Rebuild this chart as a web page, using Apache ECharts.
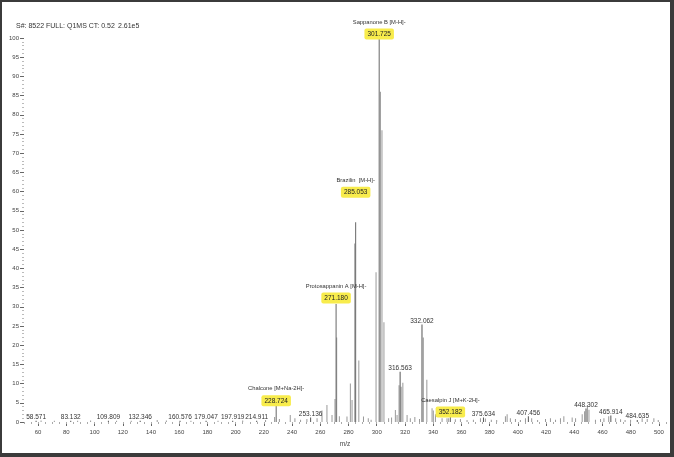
<!DOCTYPE html>
<html>
<head>
<meta charset="utf-8">
<script src="https://cdn.jsdelivr.net/npm/echarts@6/dist/echarts.min.js"></script>
<style>
    html, body { margin: 0; padding: 0; background: #fff; }
    #chart { width: 674px; height: 457px; }
    .frame {
        position: absolute; left: 0; top: 0; width: 674px; height: 457px;
        box-sizing: border-box; border-style: solid; border-color: #3b3b3b;
        border-width: 2px 4px 4px 2px; pointer-events: none;
    }
</style>
</head>
<body>
<div id="chart"></div>
<div class="frame"></div>
<script>
    // peaks with a compound annotation (yellow box)
    var compoundMz = [301.725, 285.053, 271.180, 228.724, 352.182];
    var compoundInt = [100, 52, 30.7, 4.2, 1.3];
    var compoundNames = ['Sappanone B [M-H]-', 'Brazilin  [M-H]-', 'Protosappanin A [M-H]-', 'Chalcone [M+Na-2H]-', 'Caesalpin J [M+K-2H]-'];

    // peaks labelled with m/z only
    var tagMz = [58.571, 83.132, 109.809, 132.346, 160.576, 179.047, 197.919, 214.911, 253.136, 316.563, 332.062, 375.634, 407.456, 448.302, 465.914, 484.635];
    var tagInt = [0.3, 0.3, 0.3, 0.3, 0.3, 0.3, 0.3, 0.3, 1.2, 13.1, 25.4, 1.2, 1.5, 3.5, 1.7, 0.5];

    // unlabelled peaks
    var peakMz = [62.1, 71.5, 88.0, 97.2, 115.6, 126.0, 144.4, 150.9, 168.3, 187.5, 205.0, 221.2,
        227.6, 231.0, 238.7, 242.0, 246.0, 250.5, 257.7, 261.2, 264.7, 268.3, 270.4, 271.6, 273.5, 278.9,
        281.3, 282.5, 284.4, 287.3, 290.6, 294.0, 296.0, 299.5, 302.6, 303.7, 305.1, 308.4, 310.5,
        313.2, 314.4, 315.8, 317.3, 318.5, 321.5, 323.8, 327.0, 330.3, 333.0, 335.5, 339.2, 340.1,
        341.6, 346.3, 349.8, 351.0, 355.7, 359.3, 364.0, 368.5, 373.5, 377.0, 381.2, 385.0, 391.2,
        392.4, 394.7, 398.3, 401.8, 405.4, 409.8, 414.0, 419.6, 423.1, 426.7, 430.2, 432.6, 438.5,
        440.9, 445.6, 447.3, 449.3, 450.4, 455.0, 458.6, 461.0, 464.4, 469.3, 472.8, 476.0, 479.9,
        488.1, 491.7, 496.4, 499.5];
    var peakInt = [0.4, 0.3, 0.3, 0.4, 0.3, 0.3, 0.5, 0.4, 0.3, 0.3, 0.4, 0.5,
        1.3, 0.8, 1.8, 1.0, 0.6, 0.8, 1.0, 3.0, 4.4, 1.8, 6.0, 22, 1.5, 1.4,
        10, 5.7, 46.5, 16, 1.4, 1.0, 0.6, 39, 86, 76, 26, 1.0, 1.2,
        3.1, 1.8, 9.6, 9.2, 10.2, 1.8, 1.0, 1.3, 0.8, 22, 11, 3.6, 3.0,
        2.0, 1.0, 1.0, 1.0, 0.7, 0.8, 0.5, 0.6, 1.0, 0.9, 0.6, 0.5, 1.5,
        2.0, 1.0, 0.8, 0.5, 1.0, 1.0, 0.5, 0.8, 1.0, 0.6, 1.0, 1.5, 1.2,
        1.0, 2.0, 2.8, 4.4, 3.2, 0.6, 0.8, 1.0, 1.5, 1.0, 0.7, 0.5, 0.6,
        1.0, 0.8, 1.0, 0.5];

    var xTicks = [60, 80, 100, 120, 140, 160, 180, 200, 220, 240, 260, 280, 300, 320, 340, 360, 380, 400, 420, 440, 460, 480, 500];

    var font = 'Liberation Sans, Arial, sans-serif';
    // extra gap between bar top and compound label
    var compoundGap = [0, 26, 2, 1, 1];

    var data = [];
    peakMz.forEach(function (mz, i) {
        data.push({ value: [mz, peakInt[i]] });
    });
    tagMz.forEach(function (mz, i) {
        data.push({
            value: [mz, tagInt[i]],
            itemStyle: { color: '#555' },
            label: {
                show: true, position: 'top', distance: 0,
                formatter: mz.toFixed(3), fontSize: 6.5, color: '#333', fontFamily: font
            }
        });
    });
    compoundMz.forEach(function (mz, i) {
        data.push({
            value: [mz, compoundInt[i]],
            itemStyle: { color: '#666' },
            label: {
                show: true, position: 'top', distance: compoundGap[i],
                formatter: '{n|' + compoundNames[i] + '}\n{b|' + mz.toFixed(3) + '}',
                rich: {
                    n: { fontSize: 5.8, lineHeight: 16, color: '#333', fontFamily: font },
                    b: {
                        fontSize: 6.5, lineHeight: 8, color: '#222', fontFamily: font,
                        backgroundColor: '#f8ec4c', borderRadius: 2, padding: [2, 3, 2, 3]
                    }
                }
            }
        });
    });

    var chart = echarts.init(document.getElementById('chart'));
    chart.setOption({
        animation: false,
        textStyle: { fontFamily: font },
        grid: { left: 24, right: 8, top: 38, bottom: 35, outerBoundsMode: 'none', containLabel: false },
        graphic: [
            { type: 'text', left: 16, top: 23, style: { text: 'S#: 8522 FULL: Q1MS CT: 0.52', fill: '#333', font: '7px ' + font } },
            { type: 'text', left: 118, top: 23, style: { text: '2.61e5', fill: '#333', font: '7px ' + font } }
        ],
        xAxis: [
            {
                type: 'value', min: 50, max: 505, interval: 5,
                axisLine: { show: false },
                splitLine: { show: false },
                axisTick: { show: true, customValues: xTicks, length: 4, lineStyle: { color: '#666' } },
                axisLabel: { customValues: xTicks, fontSize: 6, color: '#444', margin: 7 },
                name: 'm/z', nameLocation: 'middle', nameGap: 19,
                nameTextStyle: { fontSize: 6.5, color: '#444' }
            },
            {
                type: 'value', min: 50, max: 505, interval: 5, position: 'bottom',
                axisLine: { show: false },
                splitLine: { show: false },
                axisTick: { show: true, length: 2, lineStyle: { color: '#aaa' } },
                axisLabel: { show: false }
            }
        ],
        yAxis: {
            type: 'value', min: 0, max: 100, interval: 5,
            axisLine: { show: false },
            splitLine: { show: false },
            axisTick: { show: true, length: 4, lineStyle: { color: '#666' } },
            minorTick: { show: true, splitNumber: 5, length: 2, lineStyle: { color: '#bbb' } },
            axisLabel: { fontSize: 6, color: '#444', margin: 5 },
            name: 'Relative Abundance', nameLocation: 'middle', nameGap: 18,
            nameTextStyle: { fontSize: 4, color: '#bbb' }
        },
        series: [{
            type: 'bar',
            barWidth: 1,
            xAxisIndex: 0,
            silent: true,
            itemStyle: { color: '#999' },
            data: data
        }]
    });
</script>
</body>
</html>
